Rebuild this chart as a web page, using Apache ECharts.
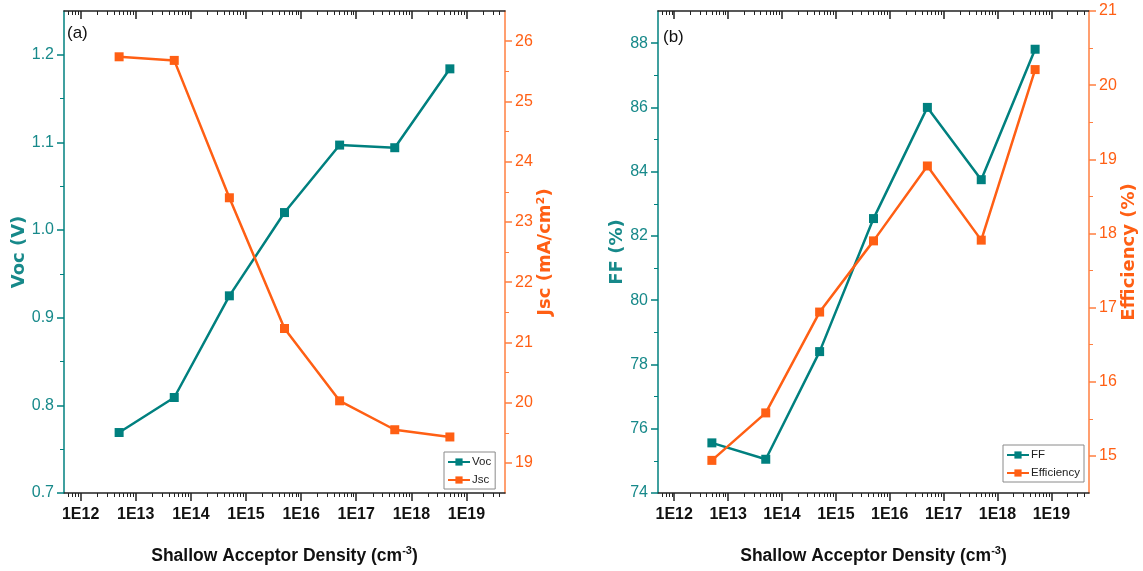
<!DOCTYPE html>
<html><head><meta charset="utf-8">
<script src="https://cdn.jsdelivr.net/npm/echarts@6/dist/echarts.min.js"></script>
<style>html,body{margin:0;padding:0;background:#fff}#c{width:1143px;height:571px}</style>
</head><body><div id="c"></div>
<script>
// ---- data ----
const density = [5e12, 5e13, 5e14, 5e15, 5e16, 5e17, 5e18];
const voc = [0.769, 0.809, 0.925, 1.020, 1.097, 1.094, 1.184];
const jsc = [25.74, 25.68, 23.40, 21.23, 20.03, 19.55, 19.43];
const ff = [75.56, 75.05, 78.40, 82.54, 86.00, 83.75, 87.81];
const eff = [14.94, 15.58, 16.94, 17.90, 18.91, 17.91, 20.21];

const xMajorTicks = [1e12, 1e13, 1e14, 1e15, 1e16, 1e17, 1e18, 1e19];
const xMantissas = [2, 3, 4, 5, 6, 7, 8, 9];
const xDecades = [1e11, 1e12, 1e13, 1e14, 1e15, 1e16, 1e17, 1e18, 1e19];
const vocTicks = [0.7, 0.8, 0.9, 1.0, 1.1, 1.2];
const vocMinor = [0.75, 0.85, 0.95, 1.05, 1.15];
const jscTicks = [19, 20, 21, 22, 23, 24, 25, 26];
const jscMinor = [19.5, 20.5, 21.5, 22.5, 23.5, 24.5, 25.5];
const ffTicks = [74, 76, 78, 80, 82, 84, 86, 88];
const ffMinor = [75, 77, 79, 81, 83, 85, 87];
const effTicks = [15, 16, 17, 18, 19, 20, 21];
const effMinor = [15.5, 16.5, 17.5, 18.5, 19.5, 20.5];

const X_MIN = 5e11, X_MAX = 5e19;
const xMinorTicks = [];
xDecades.forEach(d => xMantissas.forEach(m => { const v = m * d; if (v > X_MIN && v < X_MAX) xMinorTicks.push(v); }));

// ---- style ----
const TEAL = '#00807f', TEAL_T = '#17898a', ORANGE = '#ff5f14', ORANGE_AX = '#ff7f40';
const NARROW = '"Liberation Sans Narrow", "Liberation Sans", Arial, sans-serif';
const WIDE = '"DejaVu Sans", "Liberation Sans", sans-serif';

const grids = [
  { left: 64, top: 11, width: 441, height: 483 },
  { left: 658, top: 11, width: 431, height: 483 }
];

function xAxesFor(g) {
  const base = { type: 'log', logBase: 10, min: X_MIN, max: X_MAX, gridIndex: g, splitLine: { show: false } };
  return [
    Object.assign({}, base, {
      position: 'bottom',
      name: '{a|Shallow Acceptor Density (cm}{b|-3}{a|)}',
      nameLocation: 'middle', nameGap: 52,
      nameTextStyle: { rich: {
        a: { fontFamily: NARROW, fontSize: 17.5, fontWeight: 'bold', color: '#111', lineHeight: 22 },
        b: { fontFamily: NARROW, fontSize: 11, fontWeight: 'bold', color: '#111', verticalAlign: 'top', lineHeight: 22, padding: [0, 0, 10, 0] }
      } },
      axisLine: { show: true, lineStyle: { color: '#222', width: 1.5 } },
      axisTick: { show: true, inside: false, length: 8, customValues: xMajorTicks, lineStyle: { color: '#222', width: 1.5 } },
      axisLabel: { show: true, customValues: xMajorTicks, margin: 14, fontFamily: NARROW, fontSize: 16, fontWeight: 'bold', color: '#111',
        formatter: v => '1E' + Math.round(Math.log10(v)) }
    }),
    Object.assign({}, base, {
      position: 'bottom',
      axisLine: { show: false },
      axisTick: { show: true, inside: false, length: 4, customValues: xMinorTicks, lineStyle: { color: '#222', width: 1 } },
      axisLabel: { show: false }
    }),
    Object.assign({}, base, {
      position: 'top',
      axisLine: { show: true, lineStyle: { color: '#222', width: 1.5 } },
      axisTick: { show: true, inside: true, length: 8, customValues: xMajorTicks, lineStyle: { color: '#222', width: 1.5 } },
      axisLabel: { show: false }
    }),
    Object.assign({}, base, {
      position: 'top',
      axisLine: { show: false },
      axisTick: { show: true, inside: true, length: 4, customValues: xMinorTicks, lineStyle: { color: '#222', width: 1 } },
      axisLabel: { show: false }
    })
  ];
}

function yPair(g, pos, min, max, ticks, minor, lineColor, textColor, name, gap, digits) {
  return [
    {
      type: 'value', gridIndex: g, position: pos, min: min, max: max,
      name: name, nameLocation: 'middle', nameGap: gap, nameRotate: 90,
      nameTextStyle: { fontFamily: WIDE, fontSize: 18, fontWeight: 'bold', color: textColor },
      splitLine: { show: false },
      axisLine: { show: true, lineStyle: { color: lineColor, width: 1.5 } },
      axisTick: { show: true, inside: false, length: 7, customValues: ticks, lineStyle: { color: lineColor, width: 1.5 } },
      axisLabel: { show: true, customValues: ticks, margin: 10, fontFamily: NARROW, fontSize: 16, color: textColor,
        formatter: v => Number(v).toFixed(digits) }
    },
    {
      type: 'value', gridIndex: g, position: pos, min: min, max: max,
      splitLine: { show: false },
      axisLine: { show: false },
      axisTick: { show: true, inside: false, length: 4, customValues: minor, lineStyle: { color: lineColor, width: 1 } },
      axisLabel: { show: false }
    }
  ];
}

const xAxis = [].concat(xAxesFor(0), xAxesFor(1));
const yAxis = [].concat(
  yPair(0, 'left', 0.7, 1.25, vocTicks, vocMinor, TEAL, TEAL_T, 'Voc (V)', 33, 1),
  yPair(0, 'right', 18.5, 26.5, jscTicks, jscMinor, ORANGE_AX, ORANGE, 'Jsc (mA/cm²)', 31, 0),
  yPair(1, 'left', 74, 89, ffTicks, ffMinor, TEAL, TEAL_T, 'FF (%)', 29, 0),
  yPair(1, 'right', 14.5, 21, effTicks, effMinor, ORANGE_AX, ORANGE, 'Efficiency (%)', 31, 0)
);

function lineSeries(name, values, xi, yi, color) {
  return {
    name: name, type: 'line', xAxisIndex: xi, yAxisIndex: yi,
    data: density.map((d, i) => [d, values[i]]),
    symbol: 'rect', symbolSize: 9, showSymbol: true,
    lineStyle: { color: color, width: 2.5 }, itemStyle: { color: color },
    emphasis: { disabled: true }, animation: false
  };
}

const legendBase = {
  orient: 'vertical', borderColor: '#8a8a8a', borderWidth: 1, padding: [4, 4, 3, 3],
  itemWidth: 22, itemHeight: 9, itemGap: 6,
  textStyle: { fontFamily: NARROW, fontSize: 11.5, color: '#222', padding: [0, 0, 0, -3] }, selectedMode: false
};

const option = {
  backgroundColor: '#fff',
  animation: false,
  grid: grids,
  xAxis: xAxis,
  yAxis: yAxis,
  legend: [
    Object.assign({}, legendBase, { data: ['Voc', 'Jsc'], left: 444, top: 452 }),
    Object.assign({}, legendBase, { data: ['FF', 'Efficiency'], left: 1003, top: 445 })
  ],
  graphic: [
    { type: 'text', left: 67, top: 25, style: { text: '(a)', font: '17px ' + NARROW, fill: '#111' } },
    { type: 'text', left: 663, top: 29, style: { text: '(b)', font: '17px ' + NARROW, fill: '#111' } }
  ],
  series: [
    lineSeries('Voc', voc, 0, 0, TEAL),
    lineSeries('Jsc', jsc, 0, 2, ORANGE),
    lineSeries('FF', ff, 4, 4, TEAL),
    lineSeries('Efficiency', eff, 4, 6, ORANGE)
  ]
};

const chart = echarts.init(document.getElementById('c'), null, { renderer: 'canvas' });
chart.setOption(option);
</script>
</body></html>
